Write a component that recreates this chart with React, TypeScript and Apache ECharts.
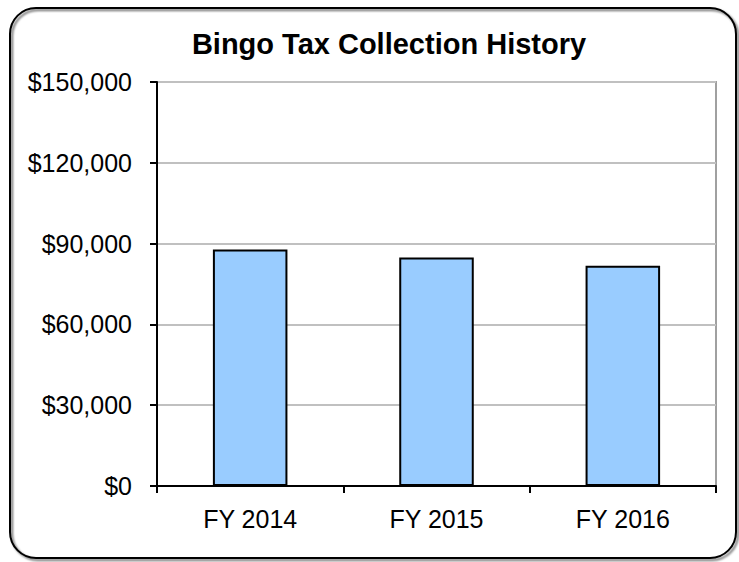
import React, { useEffect, useRef } from "react";
import * as echarts from "echarts";

const categories = ["FY 2014", "FY 2015", "FY 2016"];
const collections = [87800, 84800, 81800];
const yTicks = { min: 0, max: 150000, interval: 30000 };
const titleText = "Bingo Tax Collection History";

export default function App() {
  const ref = useRef<HTMLDivElement>(null);
  useEffect(() => {
    if (!ref.current) return;
    const chart = echarts.init(ref.current, null, { renderer: "svg" });
    const font = "'Liberation Sans', Arial, sans-serif";
    chart.setOption({
      animation: false,
      backgroundColor: "#ffffff",
      title: {
        text: titleText,
        left: 384,
        top: 24,
        textAlign: "center",
        textStyle: { fontFamily: font, fontWeight: "bold", fontSize: 29, color: "#000" },
      },
      graphic: [
        {
          type: "rect",
          shape: { x: 10, y: 8, width: 726, height: 550, r: 26 },
          style: {
            fill: "none",
            stroke: "#000",
            lineWidth: 2,
            shadowColor: "rgba(0,0,0,0.6)",
            shadowOffsetX: 2,
            shadowOffsetY: 2,
            shadowBlur: 2,
          },
          z: -1,
          silent: true,
        },
      ],
      grid: {
        left: 157,
        right: 23,
        top: 82,
        bottom: 76,
        show: true,
        borderColor: "#a0a0a0",
        borderWidth: 2,
        backgroundColor: "transparent",
      },
      xAxis: {
        type: "category",
        data: categories,
        axisLine: { lineStyle: { color: "#000", width: 2 } },
        axisTick: { show: true, length: 7, lineStyle: { color: "#000", width: 2 } },
        axisLabel: { color: "#000", fontFamily: font, fontSize: 25, margin: 20 },
      },
      yAxis: {
        type: "value",
        min: yTicks.min,
        max: yTicks.max,
        interval: yTicks.interval,
        axisLine: { show: true, lineStyle: { color: "#000", width: 2 } },
        axisTick: { show: true, length: 7, lineStyle: { color: "#000", width: 2 } },
        splitLine: { show: true, lineStyle: { color: "#c0c0c0", width: 2 } },
        axisLabel: {
          color: "#000",
          fontFamily: font,
          fontSize: 25,
          margin: 25,
          formatter: (v: number) => "$" + v.toLocaleString("en-US"),
        },
      },
      series: [
        {
          type: "bar",
          data: collections,
          barWidth: "40%",
          itemStyle: { color: "#99ccff", borderColor: "#000", borderWidth: 2 },
        },
      ],
    });
    return () => chart.dispose();
  }, []);
  return (
    <div
      ref={ref}
      style={{ position: "absolute", left: 0, top: 0, width: 739, height: 562 }}
    />
  );
}
